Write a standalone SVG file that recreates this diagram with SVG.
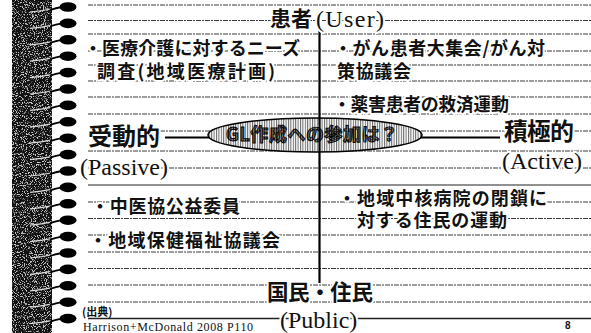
<svg xmlns="http://www.w3.org/2000/svg" width="591" height="333" viewBox="0 0 591 333">
<defs>
<style>
.rule{stroke:#3a3a3a;stroke-width:1;stroke-dasharray:5 1 2 1;fill:none}
.jp{font-family:"Noto Sans CJK JP","Noto Sans CJK SC",sans-serif;font-weight:700;fill:#111;stroke:#fff;stroke-width:4;paint-order:stroke;stroke-linejoin:round}
.body{font-size:18px}
.big{font-size:24px}
.ser{font-family:"Liberation Serif",serif;font-size:24px;fill:#111;stroke:#fff;stroke-width:4;paint-order:stroke;stroke-linejoin:round}
.small{font-family:"Liberation Serif",serif;font-size:12px;fill:#111}
.hole{fill:#000}
.tail{stroke:#000;stroke-width:1.8;fill:none}
.streak{stroke:#ddd;stroke-width:1.2;fill:none}
</style>
<pattern id="hatch" width="2.4" height="4" patternUnits="userSpaceOnUse">
<rect width="2.4" height="4" fill="#fff"/>
<rect width="1" height="4" fill="#666"/>
</pattern>
<pattern id="hatchDark" width="2.4" height="4" patternUnits="userSpaceOnUse">
<rect width="2.4" height="4" fill="#aaa"/>
<rect width="1.2" height="4" fill="#111"/>
</pattern>
<filter id="noise" x="0" y="0" width="100%" height="100%">
<feTurbulence type="fractalNoise" baseFrequency="0.9" numOctaves="2" seed="7"/>
<feColorMatrix type="matrix" values="0 0 0 0 1 0 0 0 0 1 0 0 0 0 1 9 0 0 0 -4.8"/>
</filter>
<g id="loop">
<path class="streak" d="M30 5 Q42 4 51 2"/>
<path class="tail" d="M50 3 Q56 1 62 0"/>
<ellipse class="hole" cx="68" cy="0" rx="8.5" ry="4.8"/>
</g>
</defs>
<rect width="591" height="333" fill="#fff"/>
<g id="binding">
<rect x="12" y="0" width="40" height="333" fill="#111"/>
<rect x="12" y="0" width="40" height="333" filter="url(#noise)" opacity="0.75"/>
<use href="#loop" y="7"/><use href="#loop" y="23.4"/><use href="#loop" y="39.8"/><use href="#loop" y="56.2"/>
<use href="#loop" y="72.6"/><use href="#loop" y="89"/><use href="#loop" y="105.4"/><use href="#loop" y="121.8"/>
<use href="#loop" y="138.2"/><use href="#loop" y="154.6"/><use href="#loop" y="171"/><use href="#loop" y="187.4"/>
<use href="#loop" y="203.8"/><use href="#loop" y="220.2"/><use href="#loop" y="236.6"/><use href="#loop" y="253"/>
<use href="#loop" y="269.4"/><use href="#loop" y="285.8"/><use href="#loop" y="302.2"/><use href="#loop" y="318.6"/>
</g>
<g id="rules">
<line class="rule" x1="88" y1="5" x2="591" y2="5"/>
<line class="rule" x1="88" y1="20.5" x2="591" y2="20.5"/>
<line class="rule" x1="88" y1="34" x2="591" y2="34"/>
<line class="rule" x1="88" y1="51" x2="591" y2="51"/>
<line class="rule" x1="88" y1="65" x2="591" y2="65"/>
<line class="rule" x1="88" y1="81" x2="591" y2="81"/>
<line class="rule" x1="88" y1="97" x2="591" y2="97"/>
<line class="rule" x1="88" y1="114" x2="591" y2="114"/>
<line class="rule" x1="88" y1="131" x2="591" y2="131"/>
<line class="rule" x1="88" y1="151" x2="591" y2="151"/>
<line class="rule" x1="88" y1="168" x2="591" y2="168"/>
<line x1="88" y1="185" x2="591" y2="185" stroke="#222" stroke-width="1.2"/>
<line class="rule" x1="88" y1="202" x2="591" y2="202"/>
<line class="rule" x1="88" y1="218.5" x2="591" y2="218.5"/>
<line class="rule" x1="88" y1="235" x2="591" y2="235"/>
<line class="rule" x1="88" y1="252" x2="591" y2="252"/>
<line class="rule" x1="88" y1="268.5" x2="591" y2="268.5"/>
<line class="rule" x1="88" y1="285" x2="591" y2="285"/>
<line class="rule" x1="88" y1="302" x2="591" y2="302"/>
<line x1="88" y1="318.5" x2="591" y2="318.5" stroke="#222" stroke-width="1.5"/>
</g>
<g id="connectors">
<line x1="165" y1="137.5" x2="500" y2="137.5" stroke="#000" stroke-width="2.2"/>
<line x1="319.5" y1="30" x2="319.5" y2="283" stroke="#000" stroke-width="2.2"/>
</g>
<g id="ellipse-node">
<ellipse cx="315" cy="135" rx="107" ry="17" fill="url(#hatch)" stroke="#000" stroke-width="1.5"/>
<text x="226" y="141" font-family="Noto Sans CJK JP, Noto Sans CJK SC, sans-serif" font-size="18" font-weight="700" fill="url(#hatchDark)" stroke="#000" stroke-width="0.9" textLength="172" lengthAdjust="spacing">GL作成への参加は？</text>
<line x1="319.5" y1="118" x2="319.5" y2="152" stroke="#000" stroke-width="2.2"/>
</g>
<g id="user">
<text class="jp" x="270" y="26" font-size="21">患者</text>
<text class="ser" x="316" y="27" textLength="68" lengthAdjust="spacing">(User)</text>
</g>
<g id="public">
<text class="jp" x="267" y="300" font-size="21.5" textLength="106" lengthAdjust="spacing">国民・住民</text>
<text class="ser" x="280" y="328">(Public)</text>
</g>
<g id="passive">
<text class="jp big" x="88" y="145" textLength="72" lengthAdjust="spacing">受動的</text>
<text class="ser" x="80" y="175">(Passive)</text>
</g>
<g id="active">
<text class="jp big" x="504" y="140" textLength="70" lengthAdjust="spacing">積極的</text>
<text class="ser" x="502" y="169">(Active)</text>
</g>
<g id="needs-survey">
<text class="jp body" x="84" y="55" textLength="216" lengthAdjust="spacing">・医療介護に対するニーズ</text>
<text class="jp body" x="97" y="78" textLength="178" lengthAdjust="spacing">調査(地域医療計画)</text>
</g>
<g id="cancer-meeting">
<text class="jp body" x="334" y="55" textLength="211" lengthAdjust="spacing">・がん患者大集会/がん対</text>
<text class="jp body" x="337" y="78" textLength="74" lengthAdjust="spacing">策協議会</text>
</g>
<g id="drug-victims">
<text class="jp body" x="333" y="111" textLength="176" lengthAdjust="spacing">・薬害患者の救済運動</text>
</g>
<g id="chuikyo">
<text class="jp body" x="91" y="213" textLength="149" lengthAdjust="spacing">・中医協公益委員</text>
</g>
<g id="hospital-closure">
<text class="jp body" x="338" y="205" textLength="209" lengthAdjust="spacing">・地域中核病院の閉鎖に</text>
<text class="jp body" x="357" y="227" textLength="150" lengthAdjust="spacing">対する住民の運動</text>
</g>
<g id="welfare-council">
<text class="jp body" x="89" y="247" textLength="191" lengthAdjust="spacing">・地域保健福祉協議会</text>
</g>
<g id="source">
<text x="82" y="316" font-family="Noto Sans CJK JP, sans-serif" font-size="11" font-weight="700" fill="#111">(出典)</text>
<text class="small" x="83" y="331" textLength="170" lengthAdjust="spacing">Harrison+McDonald 2008 P110</text>
<text x="565" y="329" font-family="Liberation Sans, sans-serif" font-size="10" font-weight="700" fill="#111">8</text>
</g>
</svg>
